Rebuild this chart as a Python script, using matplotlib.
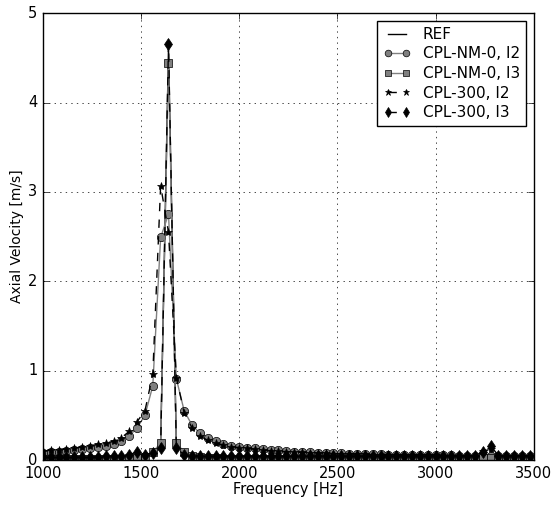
import numpy as np
import matplotlib
matplotlib.use("Agg")
import matplotlib.pyplot as plt

plt.style.use("classic")
plt.rcParams["xtick.labelsize"] = 10.5
plt.rcParams["ytick.labelsize"] = 10.5

# Frequencias (Hz)
freq = [1000, 1040, 1080, 1120, 1160, 1200, 1240, 1280, 1320, 1360,
        1400, 1440, 1480, 1520, 1560, 1600, 1640, 1680, 1720, 1760,
        1800, 1840, 1880, 1920, 1960, 2000, 2040, 2080, 2120, 2160,
        2200, 2240, 2280, 2320, 2360, 2400, 2440, 2480, 2520, 2560,
        2600, 2640, 2680, 2720, 2760, 2800, 2840, 2880, 2920, 2960,
        3000, 3040, 3080, 3120, 3160, 3200, 3240, 3280, 3320, 3360,
        3400, 3440, 3480]

# Velocidade axial (m/s)
ref = [0.01, 0.01, 0.01, 0.01, 0.01, 0.01, 0.01, 0.01, 0.01, 0.01,
       0.01, 0.02, 0.02, 0.03, 0.08, 0.17, 4.60, 0.17, 0.08, 0.04,
       0.03, 0.02, 0.02, 0.01, 0.01, 0.01, 0.01, 0.01, 0.01, 0.01,
       0.01, 0.01, 0.01, 0.01, 0.01, 0.01, 0.01, 0.01, 0.01, 0.01,
       0.01, 0.01, 0.01, 0.01, 0.01, 0.01, 0.01, 0.01, 0.01, 0.01,
       0.01, 0.01, 0.01, 0.01, 0.01, 0.01, 0.02, 0.02, 0.01, 0.01,
       0.01, 0.01, 0.01]

nm0_i2 = [0.08, 0.085, 0.09, 0.10, 0.11, 0.12, 0.13, 0.15, 0.16, 0.18,
          0.21, 0.27, 0.36, 0.50, 0.83, 2.49, 2.75, 0.91, 0.55, 0.39,
          0.30, 0.25, 0.21, 0.18, 0.16, 0.15, 0.14, 0.13, 0.12, 0.115,
          0.11, 0.10, 0.095, 0.09, 0.087, 0.083, 0.08, 0.077, 0.074, 0.071,
          0.069, 0.067, 0.065, 0.063, 0.061, 0.059, 0.058, 0.056, 0.055, 0.054,
          0.053, 0.052, 0.051, 0.050, 0.049, 0.048, 0.045, 0.040, 0.045, 0.044,
          0.043, 0.042, 0.041]

nm0_i3 = [0.01, 0.01, 0.01, 0.01, 0.01, 0.01, 0.01, 0.01, 0.01, 0.01,
          0.015, 0.02, 0.02, 0.03, 0.09, 0.19, 4.44, 0.19, 0.09, 0.05,
          0.03, 0.02, 0.02, 0.015, 0.01, 0.01, 0.01, 0.01, 0.01, 0.01,
          0.01, 0.01, 0.01, 0.01, 0.01, 0.01, 0.01, 0.01, 0.01, 0.01,
          0.01, 0.01, 0.01, 0.01, 0.01, 0.01, 0.01, 0.01, 0.01, 0.01,
          0.01, 0.01, 0.01, 0.01, 0.01, 0.01, 0.02, 0.02, 0.01, 0.01,
          0.01, 0.01, 0.01]

c300_i2 = [0.10, 0.11, 0.115, 0.125, 0.135, 0.145, 0.16, 0.175, 0.19, 0.21,
           0.25, 0.32, 0.43, 0.55, 0.96, 3.07, 2.55, 0.92, 0.53, 0.36,
           0.27, 0.22, 0.19, 0.17, 0.15, 0.14, 0.13, 0.12, 0.11, 0.105,
           0.10, 0.095, 0.09, 0.085, 0.082, 0.079, 0.076, 0.073, 0.07, 0.068,
           0.066, 0.064, 0.062, 0.06, 0.058, 0.057, 0.056, 0.054, 0.053, 0.052,
           0.051, 0.05, 0.049, 0.048, 0.048, 0.05, 0.10, 0.12, 0.05, 0.045,
           0.044, 0.043, 0.042]

c300_i3 = [0.03, 0.03, 0.03, 0.03, 0.03, 0.035, 0.035, 0.035, 0.04, 0.04,
           0.05, 0.06, 0.09, 0.06, 0.08, 0.13, 4.65, 0.13, 0.06, 0.05,
           0.045, 0.04, 0.04, 0.04, 0.04, 0.04, 0.04, 0.04, 0.04, 0.04,
           0.04, 0.04, 0.04, 0.04, 0.04, 0.04, 0.04, 0.04, 0.04, 0.04,
           0.04, 0.04, 0.04, 0.04, 0.04, 0.04, 0.04, 0.04, 0.04, 0.04,
           0.04, 0.04, 0.04, 0.04, 0.04, 0.05, 0.09, 0.16, 0.05, 0.04,
           0.04, 0.04, 0.04]

fig = plt.figure(figsize=(5.56, 5.05), dpi=100, facecolor="white")
ax = fig.add_axes([0.077, 0.089, 0.883, 0.885])

ax.plot(freq, ref, "-", color="black", lw=1, label="REF")
ax.plot(freq, nm0_i2, "-o", color="gray", mfc="gray", mec="black", ms=6, lw=1,
        label="CPL-NM-0, I2")
ax.plot(freq, nm0_i3, "-s", color="gray", mfc="gray", mec="black", ms=6, lw=1,
        label="CPL-NM-0, I3")
ax.plot(freq, c300_i2, "--*", color="black", mfc="black", mec="black", ms=6, lw=1,
        label="CPL-300, I2")
ax.plot(freq, c300_i3, "--d", color="black", mfc="black", mec="black", ms=6, lw=1,
        label="CPL-300, I3")

ax.set_xlim(1000, 3500)
ax.set_ylim(0, 5)
ax.set_xlabel("Frequency [Hz]", fontsize=10.5, labelpad=1)
ax.set_ylabel("Axial Velocity [m/s]", fontsize=10, labelpad=3)
ax.grid(True)
ax.legend(loc="upper right", fontsize=11, labelspacing=0.3, handlelength=1.8,
          markerscale=0.8, borderaxespad=0.5)

fig.savefig("out.png", dpi=100, facecolor="white")
